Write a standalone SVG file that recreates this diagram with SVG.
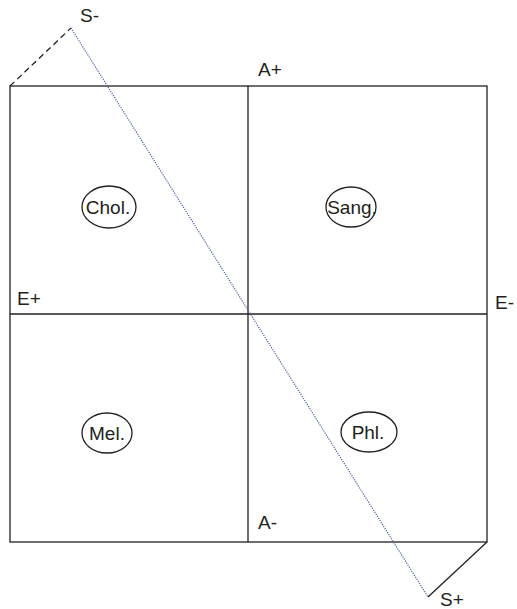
<svg xmlns="http://www.w3.org/2000/svg" width="517" height="609" viewBox="0 0 517 609">
<style>
.ln{stroke:#231f20;stroke-width:1.3;fill:none}
.el{stroke:#231f20;stroke-width:1.3;fill:#fff}
text{font-family:"Liberation Sans",Arial,sans-serif;font-size:19px;fill:#231f20}
.c{text-anchor:middle}
</style>
<rect width="517" height="609" fill="#fff"/>
<g id="connectors">
<rect class="ln" x="10" y="86" width="477" height="456"/>
<line class="ln" x1="248" y1="86" x2="248" y2="542"/>
<line class="ln" x1="10" y1="314" x2="487" y2="314"/>
<line class="ln" x1="10" y1="86" x2="71" y2="28" stroke-dasharray="6,4"/>
<line x1="71" y1="28" x2="428" y2="597" stroke="#4a5ea8" stroke-width="1.2" stroke-dasharray="1.2,1.2"/>
<line class="ln" x1="487" y1="542" x2="428" y2="597" stroke-width="1.8"/>
</g>
<g id="chol"><ellipse class="el" cx="109" cy="207" rx="27" ry="21"/><text class="c" x="108" y="214">Chol.</text></g>
<g id="sang"><ellipse class="el" cx="351" cy="207" rx="25" ry="20"/><text class="c" x="352" y="214">Sang.</text></g>
<g id="mel"><ellipse class="el" cx="107" cy="433" rx="25" ry="20"/><text class="c" x="107" y="440">Mel.</text></g>
<g id="phl"><ellipse class="el" cx="369" cy="432" rx="28" ry="20"/><text class="c" x="368" y="439">Phl.</text></g>
<g id="labels">
<text x="80" y="22">S-</text>
<text x="258" y="76">A+</text>
<text x="17" y="305">E+</text>
<text x="495" y="309">E-</text>
<text x="258" y="529">A-</text>
<text x="440" y="606">S+</text>
</g>
</svg>
